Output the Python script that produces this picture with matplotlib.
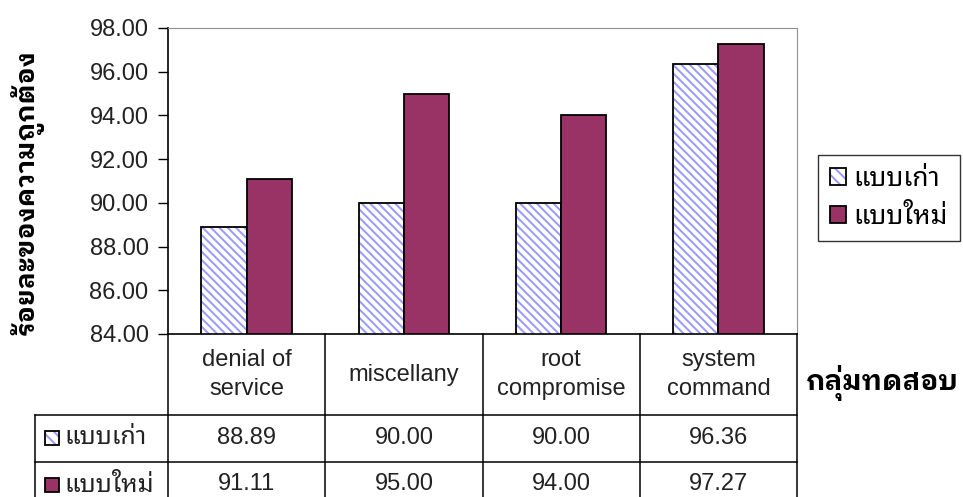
import matplotlib
matplotlib.use("Agg")
import matplotlib.pyplot as plt
from matplotlib.lines import Line2D
from matplotlib.patches import Rectangle
from matplotlib.transforms import blended_transform_factory

plt.rcParams['font.family'] = ['Liberation Sans', 'Noto Sans Thai Looped']
plt.rcParams['hatch.linewidth'] = 1.4

categories = ['denial of\nservice', 'miscellany', 'root\ncompromise', 'system\ncommand']
old_scores = [88.89, 90.00, 90.00, 96.36]
new_scores = [91.11, 95.00, 94.00, 97.27]
series_names = ['แบบเก่า', 'แบบใหม่']
yticks = [84, 86, 88, 90, 92, 94, 96, 98]

old_color = '#9999ff'
new_color = '#993366'
bold_thai = ['IBM Plex Sans Thai Looped', 'Noto Sans Thai Looped']

W, H = 963, 497


def fx(px):
    return px / W


def fy(py):
    return 1 - py / H


fig = plt.figure(figsize=(W / 100, H / 100), dpi=100)
ax = fig.add_axes([fx(168), fy(334), fx(797) - fx(168), fy(28) - fy(334)])

x = list(range(len(categories)))
bw = 0.287
xo = [i - bw / 2 for i in x]
xn = [i + bw / 2 for i in x]

# hatched bars: pattern first, then a black outline on top
ax.bar(xo, old_scores, width=bw, bottom=0, color='white', edgecolor=old_color,
       hatch='\\\\\\\\', linewidth=0)
ax.bar(xo, old_scores, width=bw, fill=False, edgecolor='black', linewidth=1.3)
ax.bar(xn, new_scores, width=bw, color=new_color, edgecolor='black', linewidth=1.3)

ax.set_xlim(-0.5, len(categories) - 0.5)
ax.set_ylim(84, 98)
ax.set_yticks(yticks)
ax.set_yticklabels(['%.2f' % t for t in yticks], fontsize=17, color='#222222')
ax.set_xticks([])
ax.tick_params(axis='y', direction='out', length=7, width=1, pad=7)
for side in ['top', 'right']:
    ax.spines[side].set_color('#909090')
for side in ['left', 'bottom']:
    ax.spines[side].set_color('black')
    ax.spines[side].set_linewidth(1.2)

# legend to the right of the plot area
h_old = (Rectangle((0, 0), 1, 1, facecolor='white', edgecolor=old_color, hatch='\\\\\\', linewidth=0),
         Rectangle((0, 0), 1, 1, fill=False, edgecolor='black', linewidth=1.3))
h_new = Rectangle((0, 0), 1, 1, facecolor=new_color, edgecolor='black', linewidth=1.3)
leg = ax.legend([h_old, h_new], series_names, loc='center left',
                bbox_to_anchor=(fx(818), fy(198)), bbox_transform=fig.transFigure,
                fontsize=19, frameon=True, fancybox=False, borderaxespad=0,
                handlelength=0.6, handleheight=0.6, handletextpad=0.3,
                labelspacing=0.5, borderpad=0.45)
leg.get_frame().set_edgecolor('black')
leg.get_frame().set_linewidth(1.0)

# data table under the axis
tr = blended_transform_factory(ax.transData, fig.transFigure)
row_tops = [334, 415, 462, 509]
label_left = 35
lw = 1.1

for b in [i - 0.5 for i in range(len(categories) + 1)]:
    fig.add_artist(Line2D([b, b], [fy(334), fy(row_tops[-1])], transform=tr,
                          color='black', linewidth=lw))
for r in row_tops[1:3]:
    fig.add_artist(Line2D([fx(label_left), fx(797)], [fy(r), fy(r)],
                          transform=fig.transFigure, color='black', linewidth=lw))
fig.add_artist(Line2D([fx(label_left), fx(label_left)], [fy(415), fy(row_tops[-1])],
                      transform=fig.transFigure, color='black', linewidth=lw))

head_y = (row_tops[0] + row_tops[1]) / 2
for i, c in enumerate(categories):
    fig.text(i, fy(head_y), c, transform=tr, ha='center', va='center',
             fontsize=17, linespacing=1.45, color='#222222')

rows = [old_scores, new_scores]
for k, vals in enumerate(rows):
    yc = (row_tops[k + 1] + row_tops[k + 2]) / 2 - 1
    for i, v in enumerate(vals):
        fig.text(i, fy(yc), '%.2f' % v, transform=tr, ha='center', va='center',
                 fontsize=17, color='#222222')
    fig.text(fx(64), fy(yc), series_names[k], ha='left', va='center',
             fontsize=18, color='#222222')

# small swatches in the row labels
sw = 14
for k in range(2):
    yc = (row_tops[k + 1] + row_tops[k + 2]) / 2 - 1
    box = [fx(45), fy(yc + sw / 2)]
    if k == 0:
        fig.add_artist(Rectangle(box, fx(sw), sw / H, transform=fig.transFigure,
                                 facecolor='white', edgecolor=old_color,
                                 hatch='\\\\\\', linewidth=0))
        fig.add_artist(Rectangle(box, fx(sw), sw / H, transform=fig.transFigure,
                                 fill=False, edgecolor='black', linewidth=1.3))
    else:
        fig.add_artist(Rectangle(box, fx(sw), sw / H, transform=fig.transFigure,
                                 facecolor=new_color, edgecolor='black', linewidth=1.3))

fig.text(fx(27), fy(192), 'ร้อยละของความถูกต้อง', rotation=90, ha='center', va='center',
         fontsize=19, fontweight='bold', family=bold_thai)
fig.text(fx(806), fy(383), 'กลุ่มทดสอบ', ha='left', va='center',
         fontsize=20, fontweight='bold', family=bold_thai)

fig.savefig('out.png', dpi=100)
